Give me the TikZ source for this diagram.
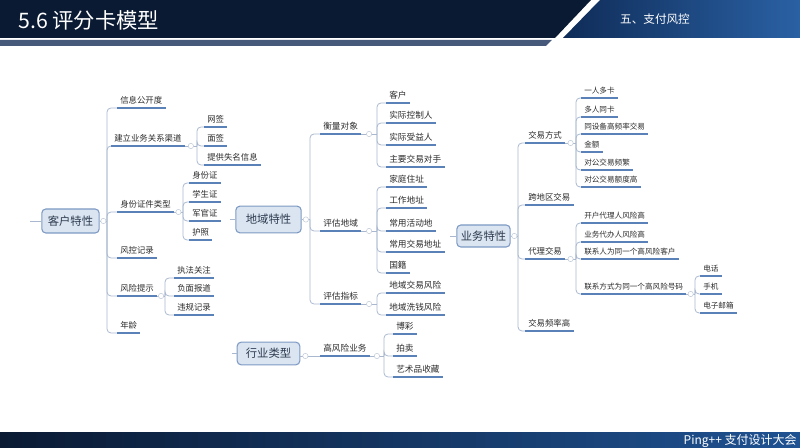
\documentclass[tikz,border=0pt]{standalone}
\usepackage{fontspec}
\setmainfont{Noto Sans CJK SC}
\usetikzlibrary{calc}

\definecolor{navy}{HTML}{0A1A33}
\definecolor{hdmid}{HTML}{0F2C58}
\definecolor{hdright}{HTML}{2A61A4}
\definecolor{barc}{HTML}{46597B}
\definecolor{ftright}{HTML}{1F5292}
\definecolor{rootfill}{HTML}{DAE5F1}
\definecolor{rootline}{HTML}{7D99C3}
\definecolor{roottxt}{HTML}{2E3A4E}
\definecolor{leaftxt}{HTML}{2B2B2B}
\definecolor{brline}{HTML}{A9B8CE}
\definecolor{ulc}{HTML}{5B82B8}
\definecolor{knobc}{HTML}{C2CCD9}

\tikzset{
  root/.style={draw=rootline, fill=rootfill, rounded corners=3pt, line width=0.8pt,
    text=roottxt, font=\fontsize{8.5}{10}\selectfont, inner xsep=2pt},
  leaf/.style={anchor=south west, inner xsep=2.25pt, inner ysep=2pt,
    text height=5pt, text depth=1.4pt, text=leaftxt},
  branch/.style={draw=brline, line width=0.6pt, rounded corners=3pt},
  uline/.style={draw=ulc, line width=1.1pt},
  knob/.style={circle, draw=knobc, fill=white, inner sep=0pt, minimum size=4pt, line width=0.4pt}
}

\begin{document}
\begin{tikzpicture}[x=0.75pt,y=-0.75pt]
\useasboundingbox (0,0) rectangle (800,448);

% header and footer
\fill[navy] (0,0) -- (591,0) -- (555,38) -- (0,38) -- cycle;
\shade[left color=hdmid, right color=hdright] (600,0) -- (800,0) -- (800,38) -- (563,38) -- cycle;
\fill[barc] (0,40) -- (552,40) -- (546,46) -- (0,46) -- cycle;
\node[anchor=west, inner sep=0pt, text=white, font=\fontsize{16}{18}\selectfont] (title) at (18,20) {5.6 评分卡模型};
\node[text=white, font=\fontsize{8.7}{10}\selectfont] (chap) at (655,19) {五、支付风控};
\shade[left color=navy, right color=ftright] (0,433) rectangle (800,448);
\node[anchor=east, inner sep=0pt, text=white, font=\fontsize{9}{10}\selectfont] (foot) at (797,441) {Ping++ 支付设计大会};

% main topics
\node[root, minimum width=43pt, minimum height=18pt] (kh) at (70.5,221) {客户特性};
\node[root, minimum width=49pt, minimum height=20pt] (dy) at (268.5,219.5) {地域特性};
\node[root, minimum width=40pt, minimum height=16.5pt] (yw) at (483.5,236) {业务特性};
\node[root, minimum width=47pt, minimum height=17pt] (hy) at (268.5,353.5) {行业类型};

\coordinate (khin) at (30,221);
\coordinate (dyin) at (230,219.5);
\coordinate (ywin) at (450,236);
\coordinate (hyin) at (232,353.5);

% trunk points
\coordinate (tkh) at (107,221);
\coordinate (ta2) at (197,146);
\coordinate (ta3) at (183,212);
\coordinate (ta5) at (165,296);
\coordinate (tdy) at (310,219.5);
\coordinate (te1) at (377,134);
\coordinate (te2) at (377,231);
\coordinate (te3) at (377,304);
\coordinate (tyw) at (518,236);
\coordinate (ti1) at (576,143);
\coordinate (ti3) at (576,259);
\coordinate (tk4) at (695,294);
\coordinate (tm1) at (384,356);

\begin{scope}[every node/.style={leaf, font=\fontsize{6.3}{7}\selectfont}]
  \node (a1) at (117,108) {信息公开度};
  \node (a2) at (111,146) {建立业务关系渠道};
  \node (a3) at (117,212) {身份证件类型};
  \node (a4) at (117,258) {风控记录};
  \node (a5) at (117,296) {风险提示};
  \node (a6) at (117,333) {年龄};
  \node (b1) at (204,127) {网签};
  \node (b2) at (204,146) {面签};
  \node (b3) at (204,165) {提供失名信息};
  \node (c1) at (189,183) {身份证};
  \node (c2) at (189,202) {学生证};
  \node (c3) at (189,221) {军官证};
  \node (c4) at (189,240) {护照};
  \node (d1) at (174,278) {执法关注};
  \node (d2) at (174,296) {负面报道};
  \node (d3) at (174,315) {违规记录};
\end{scope}

\begin{scope}[every node/.style={leaf, font=\fontsize{6.5}{7}\selectfont}]
  \node (e1) at (320,134) {衡量对象};
  \node (e2) at (320,231) {评估地域};
  \node (e3) at (320,304) {评估指标};
  \node (f1) at (386,103) {客户};
  \node (f2) at (386,123) {实际控制人};
  \node (f3) at (386,145) {实际受益人};
  \node (f4) at (386,167) {主要交易对手};
  \node (g1) at (386,187) {家庭住址};
  \node (g2) at (386,208) {工作地址};
  \node (g3) at (386,231) {常用活动地};
  \node (g4) at (386,252) {常用交易地址};
  \node (g5) at (386,273) {国籍};
  \node (h1) at (386,293) {地域交易风险};
  \node (h2) at (386,315) {地域洗钱风险};
  \node (m1) at (320,356) {高风险业务};
  \node (n1) at (393,334) {博彩};
  \node (n2) at (393,356) {拍卖};
  \node (n3) at (393,377) {艺术品收藏};
\end{scope}

\begin{scope}[every node/.style={leaf, font=\fontsize{5.7}{7}\selectfont}]
  \node[font=\fontsize{6.3}{7}\selectfont] (i1) at (525,143) {交易方式};
  \node[font=\fontsize{6.3}{7}\selectfont] (i2) at (525,205) {跨地区交易};
  \node[font=\fontsize{6.3}{7}\selectfont] (i3) at (525,259) {代理交易};
  \node[font=\fontsize{6.3}{7}\selectfont] (i4) at (525,331) {交易频率高};
  \node (j1) at (581,98) {一人多卡};
  \node (j2) at (581,117) {多人同卡};
  \node (j3) at (581,134) {同设备高频率交易};
  \node (j4) at (581,152) {金额};
  \node (j5) at (581,170) {对公交易频繁};
  \node (j6) at (581,187) {对公交易额度高};
  \node (k1) at (581,223) {开户代理人风险高};
  \node (k2) at (581,242) {业务代办人风险高};
  \node (k3) at (581,259) {联系人为同一个高风险客户};
  \node (k4) at (581,294) {联系方式为同一个高风险号码};
  \node (l1) at (700,276) {电话};
  \node (l2) at (700,294) {手机};
  \node (l3) at (700,313) {电子邮箱};
\end{scope}

% branches
\draw[branch] (khin) -- (kh);
\draw[branch] (dyin) -- (dy);
\draw[branch] (ywin) -- (yw);
\draw[branch] (hyin) -- (hy);

\draw[branch] (kh.east) -- (tkh);
\foreach \c in {a1,a2,a3,a4,a5,a6} \draw[branch] (tkh) |- (\c.south west);
\draw[branch] (a2.south east) -- (ta2);
\foreach \c in {b1,b2,b3} \draw[branch] (ta2) |- (\c.south west);
\draw[branch] (a3.south east) -- (ta3);
\foreach \c in {c1,c2,c3,c4} \draw[branch] (ta3) |- (\c.south west);
\draw[branch] (a5.south east) -- (ta5);
\foreach \c in {d1,d2,d3} \draw[branch] (ta5) |- (\c.south west);

\draw[branch] (dy.east) -- (tdy);
\foreach \c in {e1,e2,e3} \draw[branch] (tdy) |- (\c.south west);
\draw[branch] (e1.south east) -- (te1);
\foreach \c in {f1,f2,f3,f4} \draw[branch] (te1) |- (\c.south west);
\draw[branch] (e2.south east) -- (te2);
\foreach \c in {g1,g2,g3,g4,g5} \draw[branch] (te2) |- (\c.south west);
\draw[branch] (e3.south east) -- (te3);
\foreach \c in {h1,h2} \draw[branch] (te3) |- (\c.south west);

\draw[branch] (yw.east) -- (tyw);
\foreach \c in {i1,i2,i3,i4} \draw[branch] (tyw) |- (\c.south west);
\draw[branch] (i1.south east) -- (ti1);
\foreach \c in {j1,j2,j3,j4,j5,j6} \draw[branch] (ti1) |- (\c.south west);
\draw[branch] (i3.south east) -- (ti3);
\foreach \c in {k1,k2,k3,k4} \draw[branch] (ti3) |- (\c.south west);
\draw[branch] (k4.south east) -- (tk4);
\foreach \c in {l1,l2,l3} \draw[branch] (tk4) |- (\c.south west);

\draw[branch] (hy.east |- m1.south west) -- (m1.south west);
\draw[branch] (m1.south east) -- (tm1);
\foreach \c in {n1,n2,n3} \draw[branch] (tm1) |- (\c.south west);

% underlines
\foreach \n in {a1,a2,a3,a4,a5,a6,b1,b2,b3,c1,c2,c3,c4,d1,d2,d3,
  e1,e2,e3,f1,f2,f3,f4,g1,g2,g3,g4,g5,h1,h2,m1,n1,n2,n3,
  i1,i2,i3,i4,j1,j2,j3,j4,j5,j6,k1,k2,k3,k4,l1,l2,l3}
  \draw[uline] (\n.south west) -- (\n.south east);

% collapse knobs
\foreach \p/\t in {kh.east/tkh, a2.south east/ta2, a3.south east/ta3, a5.south east/ta5,
  dy.east/tdy, e1.south east/te1, e2.south east/te2, e3.south east/te3,
  yw.east/tyw, i1.south east/ti1, i3.south east/ti3, k4.south east/tk4,
  m1.south east/tm1}
  \node[knob] at ($(\p)!.5!(\t)$) {};
\node[knob] at ($(hy.east |- m1.south west)+(5,0)$) {};

\end{tikzpicture}
\end{document}
